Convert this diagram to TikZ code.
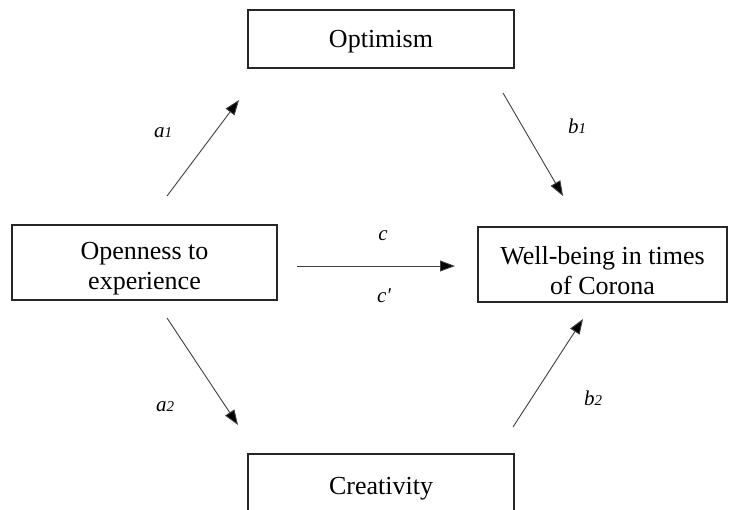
\documentclass[tikz,border=0pt]{standalone}
\usepackage{fontspec}
\setmainfont{Liberation Serif}
\usetikzlibrary{arrows.meta}
\tikzset{
  box/.style={draw=black!85, line width=1.4pt, inner sep=0pt},
  txt/.style={inner sep=0pt, anchor=base, font=\fontsize{26}{29}\selectfont},
  lbl/.style={inner sep=0pt, font=\fontsize{21}{24}\selectfont\itshape},
  path/.style={draw=black!75, line width=0.9pt, -{Triangle[length=15pt,width=11pt,fill=black]}}
}
\newcommand{\subnum}[1]{{\fontsize{15}{15}\selectfont #1}}
\begin{document}
\begin{tikzpicture}[x=1pt,y=-1pt]
\clip (0,0) rectangle (735,510);
\fill[white] (0,0) rectangle (735,510);
% boxes
\node[box, minimum width=266pt, minimum height=58pt] (opt) at (381,39) {};
\node[box, minimum width=265pt, minimum height=75pt] (open) at (144.5,262.5) {};
\node[box, minimum width=249pt, minimum height=75pt] (well) at (602.5,264.5) {};
\node[box, minimum width=266pt, minimum height=90pt] (cre) at (381,499) {};
% texts
\node[txt] (optT) at (381,48) {Optimism};
\node[txt] (openT1) at (144.5,260) {Openness to};
\node[txt] (openT2) at (144.5,289) {experience};
\node[txt] (wellT1) at (602.5,265) {Well-being in times};
\node[txt] (wellT2) at (602.5,294) {of Corona};
\node[txt] (creT) at (381,494) {Creativity};
% connector end points
\coordinate (a1s) at (167,196); \coordinate (a1e) at (239,100);
\coordinate (b1s) at (503,93);  \coordinate (b1e) at (563,196);
\coordinate (cs) at (297,266);  \coordinate (ce) at (455,266);
\coordinate (a2s) at (167,318); \coordinate (a2e) at (238,425);
\coordinate (b2s) at (513,427); \coordinate (b2e) at (583,319);
\draw[path] (a1s) -- (a1e);
\draw[path] (b1s) -- (b1e);
\draw[path] (cs) -- (ce);
\draw[path] (a2s) -- (a2e);
\draw[path] (b2s) -- (b2e);
% labels
\node[lbl] (la1) at (163,133) {a\subnum{1}};
\node[lbl] (lb1) at (577,126) {b\subnum{1}};
\node[lbl] (lc) at (383,236) {c};
\node[lbl] (lcp) at (384,296) {c′};
\node[lbl] (la2) at (165,407) {a\subnum{2}};
\node[lbl] (lb2) at (593,398) {b\subnum{2}};
\end{tikzpicture}
\end{document}
